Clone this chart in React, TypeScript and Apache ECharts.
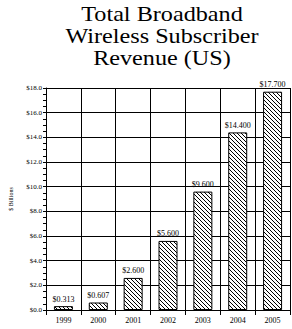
import React, { useEffect, useRef } from "react";
import * as echarts from "echarts";

const years = ["1999", "2000", "2001", "2002", "2003", "2004", "2005"];
const revenue = [0.313, 0.607, 2.6, 5.6, 9.6, 14.4, 17.7];
const valueLabels = ["$0.313", "$0.607", "$2.600", "$5.600", "$9.600", "$14.400", "$17.700"];
const titleLines = ["Total Broadband", "Wireless Subscriber", "Revenue (US)"];

const FONT = "'Liberation Serif', 'DejaVu Serif', serif";

function makeHatch() {
  const c = document.createElement("canvas");
  c.width = 4;
  c.height = 4;
  const ctx = c.getContext("2d")!;
  ctx.fillStyle = "#fff";
  ctx.fillRect(0, 0, 4, 4);
  ctx.strokeStyle = "#000";
  ctx.lineWidth = 1;
  ctx.beginPath();
  ctx.moveTo(-1, -1);
  ctx.lineTo(5, 5);
  ctx.moveTo(-1, 3);
  ctx.lineTo(1, 5);
  ctx.moveTo(3, -1);
  ctx.lineTo(5, 1);
  ctx.stroke();
  return c;
}

export default function App() {
  const ref = useRef<HTMLDivElement>(null);
  useEffect(() => {
    if (!ref.current) return;
    const chart = echarts.init(ref.current, null, { renderer: "svg" });
    const hatch = makeHatch();
    chart.setOption({
      animation: false,
      backgroundColor: "#fff",
      graphic: titleLines.map((t, i) => ({
        type: "text",
        x: 162,
        y: 13 + i * 22,
        scaleX: 1.1,
        style: {
          text: t,
          align: "center",
          verticalAlign: "middle",
          fontFamily: FONT,
          fontSize: 22,
          fill: "#000",
        },
      })),
      grid: { left: 40, right: 2, top: 88, bottom: 19 },
      xAxis: {
        type: "category",
        data: years,
        boundaryGap: true,
        axisLine: { lineStyle: { color: "#000", width: 1 } },
        axisTick: { show: true, length: 5, lineStyle: { color: "#000" } },
        splitLine: { show: true, lineStyle: { color: "#000", width: 1 } },
        axisLabel: { fontFamily: FONT, fontSize: 8, color: "#000", margin: 6 },
      },
      yAxis: {
        type: "value",
        min: 0,
        max: 18,
        interval: 2,
        name: "$ Billions",
        nameLocation: "middle",
        nameGap: 32,
        nameTextStyle: { fontFamily: FONT, fontSize: 6, color: "#000" },
        axisLine: { show: true, lineStyle: { color: "#000", width: 1 } },
        axisTick: { show: true, length: 3, lineStyle: { color: "#000" } },
        minorTick: { show: true, splitNumber: 4, length: 3, lineStyle: { color: "#000" } },
        splitLine: { show: true, lineStyle: { color: "#000", width: 1 } },
        axisLabel: {
          fontFamily: FONT,
          fontSize: 7,
          color: "#000",
          margin: 4,
          formatter: (v: number) => "$" + v.toFixed(1),
        },
      },
      series: [
        {
          type: "bar",
          data: revenue,
          barWidth: 19,
          itemStyle: {
            color: { image: hatch, repeat: "repeat" },
            borderColor: "#000",
            borderWidth: 1,
          },
          label: {
            show: true,
            position: "top",
            distance: 3,
            fontFamily: FONT,
            fontSize: 8,
            color: "#000",
            formatter: (p: any) => valueLabels[p.dataIndex],
          },
        },
      ],
    });
    return () => chart.dispose();
  }, []);
  return <div ref={ref} style={{ width: 292, height: 329, position: "absolute", left: 0, top: 0 }} />;
}
